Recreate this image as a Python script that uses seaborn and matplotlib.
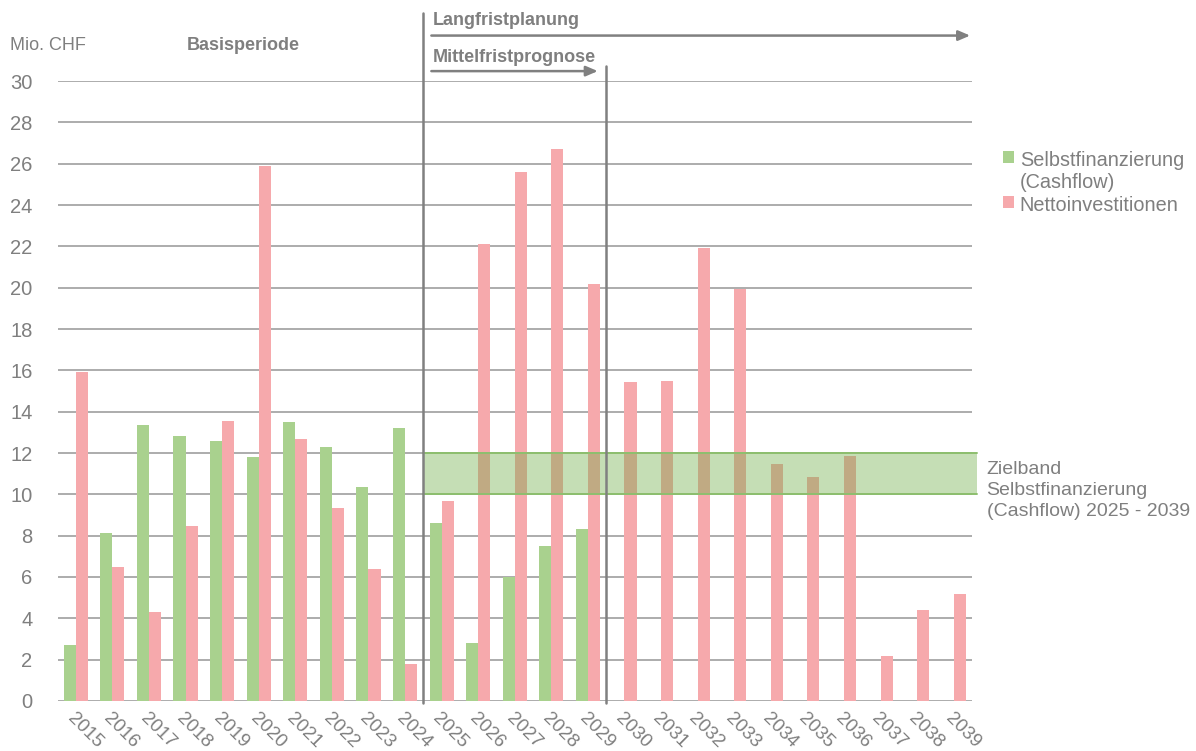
import numpy as np
import pandas as pd
import matplotlib
matplotlib.use("Agg")
import matplotlib.pyplot as plt
import seaborn as sns
from matplotlib.patches import Patch

# --- data -----------------------------------------------------------------
years = [str(y) for y in range(2015, 2040)]
selbstfinanzierung = [2.7, 8.15, 13.35, 12.8, 12.6, 11.8, 13.5, 12.3, 10.35, 13.2,
                      8.6, 2.8, 6.0, 7.5, 8.3,
                      np.nan, np.nan, np.nan, np.nan, np.nan,
                      np.nan, np.nan, np.nan, np.nan, np.nan]
nettoinvestitionen = [15.9, 6.5, 4.3, 8.45, 13.55, 25.9, 12.7, 9.35, 6.4, 1.8,
                      9.7, 22.1, 25.6, 26.7, 20.2,
                      15.45, 15.5, 21.9, 19.95, 11.45,
                      10.85, 11.85, 2.2, 4.4, 5.2]
series_names = ["Selbstfinanzierung\n(Cashflow)", "Nettoinvestitionen"]
y_ticks = list(range(0, 31, 2))
zielband = (10, 12)

df = pd.DataFrame({
    "Jahr": years * 2,
    "Serie": [series_names[0]] * len(years) + [series_names[1]] * len(years),
    "Wert": selbstfinanzierung + nettoinvestitionen,
})

# --- style ----------------------------------------------------------------
sns.set_style("white")
plt.rcParams["font.family"] = ["Liberation Sans", "DejaVu Sans"]

GREEN = "#A9D18E"
PINK = "#F6A9AC"
GREY_TXT = "#7F7F7F"
GRID = "#A6A6A6"
LINE = "#808080"

fig = plt.figure(figsize=(11.96, 7.51), dpi=100)
ax = fig.add_axes([0.0481, 0.0666, 0.7646, 0.8255])

sns.barplot(data=df, x="Jahr", y="Wert", hue="Serie", order=years,
            hue_order=series_names, palette=[GREEN, PINK], width=0.66,
            errorbar=None, saturation=1, ax=ax, legend=False, zorder=3,
            linewidth=0, edgecolor="none")

ax.set_xlim(-0.5, len(years) - 0.5)
ax.set_ylim(0, 30)
ax.set_yticks(y_ticks)
ax.set_yticklabels([str(t) for t in y_ticks], fontsize=14.5, color=GREY_TXT)
ax.set_xticks(range(len(years)))
ax.set_xticklabels(years, rotation=-45, ha="left", va="top",
                   rotation_mode="anchor", fontsize=13.5, color=GREY_TXT)
ax.tick_params(axis="both", length=0)
ax.tick_params(axis="y", pad=18)
ax.tick_params(axis="x", pad=6)
ax.set_xlabel("")
ax.set_ylabel("")
for s in ax.spines.values():
    s.set_visible(False)

# horizontal grid
for t in y_ticks:
    ax.axhline(t, color=GRID, lw=1.3, zorder=1)

# target band 2025-2039
x0, x1 = 9.5, 24.63
ax.fill_between([x0, x1], zielband[0], zielband[1], color="#70AD47",
                alpha=0.4, lw=0, zorder=4, clip_on=False)
for yb in zielband:
    ax.plot([x0, x1], [yb, yb], color="#8DBF6E", lw=1.4, zorder=4,
            clip_on=False)
ax.text(24.9, 10.2, "Zielband\nSelbstfinanzierung\n(Cashflow) 2025 - 2039",
        ha="left", va="center", fontsize=14, color=GREY_TXT,
        linespacing=1.3, clip_on=False)

# period separators
ax.plot([9.5, 9.5], [-0.1, 33.3], color=LINE, lw=1.8, zorder=5, clip_on=False)
ax.plot([14.5, 14.5], [-0.1, 30.75], color=LINE, lw=1.8, zorder=5, clip_on=False)

# period arrows
arrow_kw = dict(arrowstyle="-|>,head_length=0.7,head_width=0.3",
                color=LINE, lw=1.8, shrinkA=0, shrinkB=0)
ax.annotate("", xy=(24.45, 32.2), xytext=(9.72, 32.2),
            arrowprops=arrow_kw, annotation_clip=False)
ax.annotate("", xy=(14.27, 30.48), xytext=(9.72, 30.48),
            arrowprops=arrow_kw, annotation_clip=False)

ax.text(9.76, 32.95, "Langfristplanung", ha="left", va="center",
        fontsize=13, fontweight="bold", color=GREY_TXT, clip_on=False)
ax.text(9.76, 31.15, "Mittelfristprognose", ha="left", va="center",
        fontsize=13, fontweight="bold", color=GREY_TXT, clip_on=False)
ax.text(4.57, 31.74, "Basisperiode", ha="center", va="center",
        fontsize=13, fontweight="bold", color=GREY_TXT, clip_on=False)
fig.text(10 / 1196, 1 - 45 / 751, "Mio. CHF", ha="left", va="center",
         fontsize=13, color=GREY_TXT)

# legend
handles = [Patch(facecolor=GREEN, edgecolor="none"),
           Patch(facecolor=PINK, edgecolor="none")]
leg = fig.legend(handles, series_names, loc="upper left",
                 bbox_to_anchor=(995 / 1196, 1 - 143 / 751),
                 frameon=False, fontsize=14.3, handlelength=0.55,
                 handleheight=0.55, handletextpad=0.3, labelspacing=0.2,
                 borderaxespad=0)
for txt in leg.get_texts():
    txt.set_color(GREY_TXT)
# keep each marker level with the first line of its label
for column in leg._legend_handle_box.get_children():
    for row in column.get_children():
        row.align = "top"

fig.savefig("out.png", dpi=100)
